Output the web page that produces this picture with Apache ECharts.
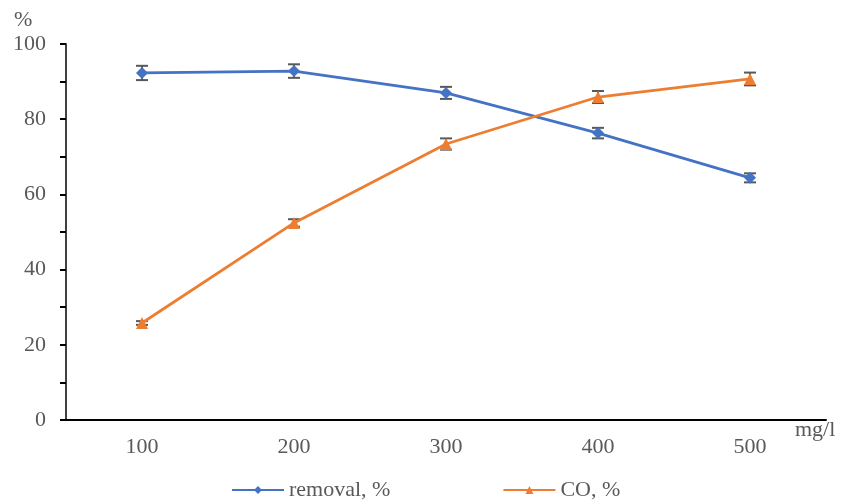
<!DOCTYPE html>
<html>
<head>
<meta charset="utf-8">
<script src="https://cdn.jsdelivr.net/npm/echarts@6/dist/echarts.min.js"></script>
<style>
  html, body { margin: 0; padding: 0; background: #fff; }
  #chart { width: 842px; height: 504px; }
</style>
</head>
<body>
<div id="chart"></div>
<script>
// 데이터
const categories = ["100", "200", "300", "400", "500"];
const removal = [92.3, 92.8, 87.0, 76.3, 64.4];
const removalErr = [1.9, 1.8, 1.6, 1.4, 1.2];
const co = [25.8, 52.4, 73.4, 85.9, 90.7];
const coErr = [0.5, 1.0, 1.5, 1.6, 1.7];

const FONT = "Liberation Serif";
const TEXT = "#595959";

// 오차 막대
function errorSeries(values, errs) {
  return {
    type: "custom",
    silent: true,
    z: 1,
    data: values.map((v, i) => [i, v - errs[i], v + errs[i]]),
    renderItem: function (params, api) {
      const lo = api.coord([api.value(0), api.value(1)]);
      const hi = api.coord([api.value(0), api.value(2)]);
      const w = 6;
      const style = { stroke: "#595959", lineWidth: 2 };
      return {
        type: "group",
        children: [
          { type: "line", shape: { x1: lo[0], y1: lo[1], x2: hi[0], y2: hi[1] }, style: style },
          { type: "line", shape: { x1: lo[0] - w, y1: lo[1], x2: lo[0] + w, y2: lo[1] }, style: style },
          { type: "line", shape: { x1: hi[0] - w, y1: hi[1], x2: hi[0] + w, y2: hi[1] }, style: style },
        ],
      };
    },
  };
}

const myChart = echarts.init(document.getElementById("chart"));

const option = {
  animation: false,
  textStyle: { fontFamily: FONT },
  grid: { left: 66, right: 16, top: 44, bottom: 84 },
  legend: {
    bottom: -2,
    left: 226,
    itemWidth: 52,
    itemHeight: 10,
    itemGap: 112,
    textStyle: { fontFamily: FONT, fontSize: 22, color: TEXT },
    data: ["removal, %", "CO, %"],
  },
  graphic: [
    { type: "text", left: 14, top: 9, style: { text: "%", font: "22px " + FONT, fill: TEXT } },
    { type: "text", left: 795, top: 419, style: { text: "mg/l", font: "22px " + FONT, fill: TEXT } },
  ],
  xAxis: {
    type: "category",
    data: categories,
    boundaryGap: true,
    axisLine: { lineStyle: { color: "#000", width: 2 } },
    axisTick: { alignWithLabel: true, length: 5, lineStyle: { color: "#000", width: 2 } },
    axisLabel: { fontFamily: FONT, fontSize: 22, color: TEXT, margin: 16 },
  },
  yAxis: {
    type: "value",
    min: 0,
    max: 100,
    interval: 10,
    splitLine: { show: false },
    axisLine: { show: true, lineStyle: { color: "#404040", width: 2 } },
    axisTick: { show: true, length: 6, lineStyle: { color: "#000", width: 2 } },
    axisLabel: {
      fontFamily: FONT,
      fontSize: 22,
      color: TEXT,
      margin: 20,
      formatter: (v) => (v % 20 === 0 ? String(v) : ""),
    },
  },
  series: [
    errorSeries(removal, removalErr),
    errorSeries(co, coErr),
    {
      name: "removal, %",
      type: "line",
      data: removal,
      z: 3,
      symbol: "diamond",
      symbolSize: 12,
      itemStyle: { color: "#4472C4" },
      lineStyle: { color: "#4472C4", width: 2.75 },
    },
    {
      name: "CO, %",
      type: "line",
      data: co,
      z: 3,
      symbol: "triangle",
      symbolSize: 12,
      itemStyle: { color: "#ED7D31" },
      lineStyle: { color: "#ED7D31", width: 2.75 },
    },
  ],
};

myChart.setOption(option);
</script>
</body>
</html>
